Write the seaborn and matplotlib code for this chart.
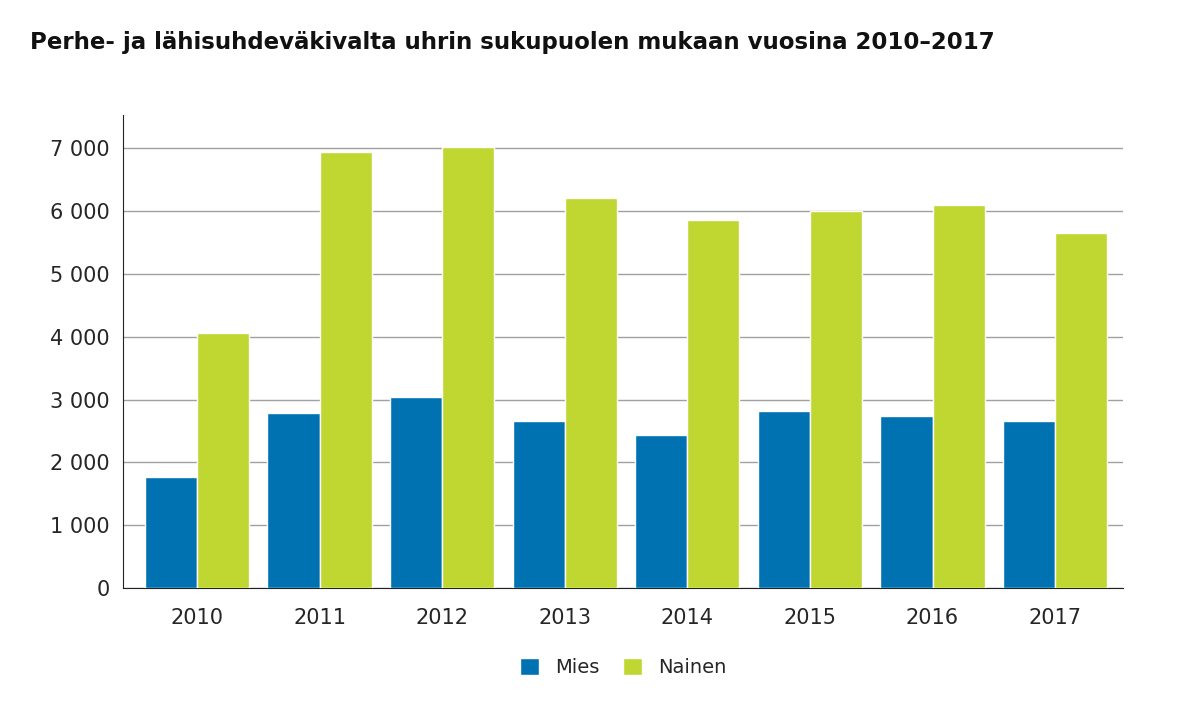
import pandas as pd
import seaborn as sns
import matplotlib.pyplot as plt
from matplotlib.ticker import FuncFormatter

years = ["2010", "2011", "2012", "2013", "2014", "2015", "2016", "2017"]
mies = [1770, 2785, 3040, 2660, 2435, 2815, 2735, 2660]
nainen = [4060, 6935, 7015, 6205, 5855, 6000, 6095, 5650]

df = pd.DataFrame({
    "vuosi": years * 2,
    "sukupuoli": ["Mies"] * len(years) + ["Nainen"] * len(years),
    "arvo": mies + nainen,
})

sns.set_style("white")
fig = plt.figure(figsize=(11.98, 7.12), dpi=100)
ax = fig.add_axes([0.103, 0.174, 0.834, 0.664])
sns.barplot(data=df, x="vuosi", y="arvo", hue="sukupuoli",
            palette=["#0072b1", "#bfd730"], width=0.85, gap=0,
            saturation=1, ax=ax, zorder=3)

ax.set_ylim(0, 7520)
ax.set_xlim(-0.6, 7.55)
ax.set_yticks(range(0, 7001, 1000))
ax.yaxis.set_major_formatter(FuncFormatter(lambda v, p: f"{int(v):,}".replace(",", " ")))
ax.grid(axis="y", color="#a0a0a0", linewidth=1, zorder=0)
for s in ["top", "right"]:
    ax.spines[s].set_visible(False)
ax.spines["left"].set_color("#222222")
ax.spines["bottom"].set_color("#222222")
ax.tick_params(axis="both", labelsize=15, length=0, pad=10)
ax.tick_params(axis="x", pad=14)
ax.set_xlabel("")
ax.set_ylabel("")

ax.legend(loc="upper center", bbox_to_anchor=(0.5, -0.11), ncol=2, frameon=False,
          fontsize=14, handlelength=1.0, handleheight=1.0, columnspacing=1.2)

fig.text(0.025, 0.94, "Perhe- ja lähisuhdeväkivalta uhrin sukupuolen mukaan vuosina 2010–2017",
         fontsize=16.5, fontweight="bold", ha="left", va="center", color="#111111")

fig.savefig("out.png", dpi=100)
